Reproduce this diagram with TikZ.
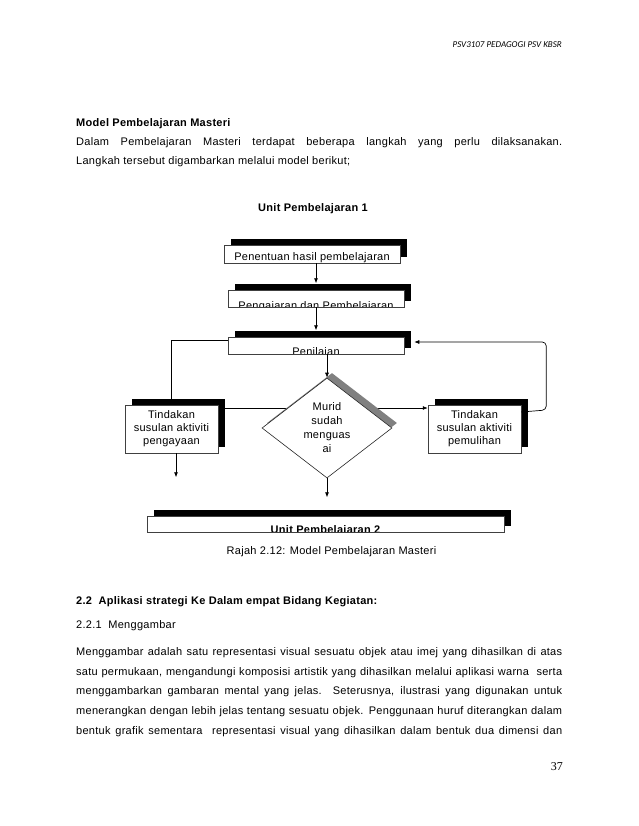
\documentclass[tikz,border=0pt]{standalone}
\usepackage{fontspec}
\setmainfont[LetterSpace=2.5]{Liberation Sans}
\newfontfamily\hdrfont{Carlito}
\newfontfamily\numfont{Liberation Serif}
\usetikzlibrary{arrows.meta,shapes.geometric,shadows,backgrounds}
\newcommand{\lebar}{486pt}

\begin{document}
\fontsize{11}{13}\selectfont
\begin{tikzpicture}[x=1pt, y=-1pt,
  teks/.style={anchor=west, inner sep=0pt, text height=8pt, text depth=2.5pt},
  kotak/.style={draw=black!75, fill=white, line width=0.5pt, inner sep=0pt,
    drop shadow={shadow xshift=6.5pt, shadow yshift=6.5pt, fill=black, opacity=1}},
  potong/.style n args={3}{path picture={
    \node[anchor=base, inner sep=0pt, font=#3] at ([yshift=#2]path picture bounding box.south) {#1};}},
  keputusan/.style={diamond, draw=black!85, fill=white, line width=0.6pt, inner sep=0pt,
    minimum width=130pt, minimum height=100pt, align=center,
    font=\fontsize{11}{14}\selectfont,
    drop shadow={shadow xshift=5pt, shadow yshift=5pt, fill=black!50, opacity=1}},
  garis/.style={line width=0.7pt, draw=black},
  panah/.style={garis, -{Latex[length=5pt,width=4pt]}}]
  \begin{scope}[on background layer]
    \fill[white] (0,0) rectangle (638,826);
  \end{scope}
  \useasboundingbox (0,0) rectangle (638,826);

  \node[anchor=east, inner sep=0pt, font=\hdrfont\itshape\fontsize{9}{11}\selectfont] (kepala) at (562,45)
    {PSV3107 PEDAGOGI PSV KBSR};
  \node[teks, font=\bfseries] (tajuk) at (76,124) {Model Pembelajaran Masteri};
  \node[teks] (pa1) at (76,143)
    {\makebox[\lebar][s]{Dalam Pembelajaran Masteri terdapat beberapa langkah yang perlu dilaksanakan.}};
  \node[teks] (pa2) at (76,162) {Langkah tersebut digambarkan melalui model berikut;};
  \node[inner sep=0pt, font=\bfseries] (unitsatu) at (313,209) {Unit Pembelajaran 1};

  \node[kotak, minimum width=176pt, minimum height=18pt,
    potong={Penentuan hasil pembelajaran}{3pt}{}] (tujuan) at (312,254) {};
  \node[kotak, minimum width=176pt, minimum height=17pt,
    potong={Pengajaran dan Pembelajaran}{-2pt}{}] (ajar) at (316,298.5) {};
  \node[kotak, minimum width=176pt, minimum height=17pt,
    potong={Penilaian}{-1.5pt}{}] (nilai) at (316,345.5) {};
  \node[keputusan] (murid) at (327,428) {Murid\\sudah\\menguas\\ai};
  \node[kotak, minimum width=93pt, minimum height=48pt, align=center] (kaya) at (171.5,429)
    {Tindakan\\susulan aktiviti\\pengayaan};
  \node[kotak, minimum width=93pt, minimum height=48pt, align=center] (pulih) at (474.5,429)
    {Tindakan\\susulan aktiviti\\pemulihan};
  \node[kotak, minimum width=357pt, minimum height=16pt,
    potong={Unit Pembelajaran 2}{-1.5pt}{\bfseries}] (unitdua) at (325.5,524) {};

  \draw[panah] (tujuan.south -| ajar.north) -- ([yshift=6.5pt]ajar.north);
  \draw[panah] (ajar.south) -- ([yshift=6.5pt]nilai.north);
  \draw[panah] (nilai.south -| murid.north) -- (murid.north);
  \draw[garis] ([yshift=5.5pt]nilai.west) -| (kaya.north);
  \draw[panah, rounded corners=4pt] ([yshift=17pt]pulih.east) -- ++(25,-2)
    |- ([xshift=10pt,yshift=3.5pt]nilai.east);
  \begin{scope}[on background layer]
    \draw[garis] ([yshift=20pt]murid.center) -- ([yshift=20pt]murid.center -| kaya.east);
    \draw[panah] ([yshift=20pt]murid.center) -- ([yshift=20pt]murid.center -| pulih.west);
  \end{scope}
  \draw[panah] ([xshift=4.5pt]kaya.south) -- ++(0,24);
  \draw[panah] (murid.south) -- ++(0,19);

  \node[inner sep=0pt] (rajah) at (331.5,552) {Rajah 2.12: Model Pembelajaran Masteri};

  \node[teks, font=\bfseries] (tajuk2) at (76,602) {2.2\ \ Aplikasi strategi Ke Dalam empat Bidang Kegiatan:};
  \node[teks] (subtajuk) at (76,626) {2.2.1\ \ Menggambar};
  \node[teks] (pb1) at (76,653)
    {\makebox[\lebar][s]{Menggambar adalah satu representasi visual sesuatu objek atau imej yang dihasilkan di atas}};
  \node[teks] (pb2) at (76,672.5)
    {\makebox[\lebar][s]{satu permukaan, mengandungi komposisi artistik yang dihasilkan melalui aplikasi warna\ \ serta}};
  \node[teks] (pb3) at (76,692)
    {\makebox[\lebar][s]{menggambarkan gambaran mental yang jelas. Seterusnya, ilustrasi yang digunakan untuk}};
  \node[teks] (pb4) at (76,712)
    {\makebox[\lebar][s]{menerangkan dengan lebih jelas tentang sesuatu objek. Penggunaan huruf diterangkan dalam}};
  \node[teks] (pb5) at (76,732)
    {\makebox[\lebar][s]{bentuk grafik sementara\ \ representasi visual yang dihasilkan dalam bentuk dua dimensi dan}};
  \node[anchor=east, inner sep=0pt, font=\numfont\fontsize{12}{14}\selectfont] (halaman) at (563,767) {37};
\end{tikzpicture}
\end{document}
